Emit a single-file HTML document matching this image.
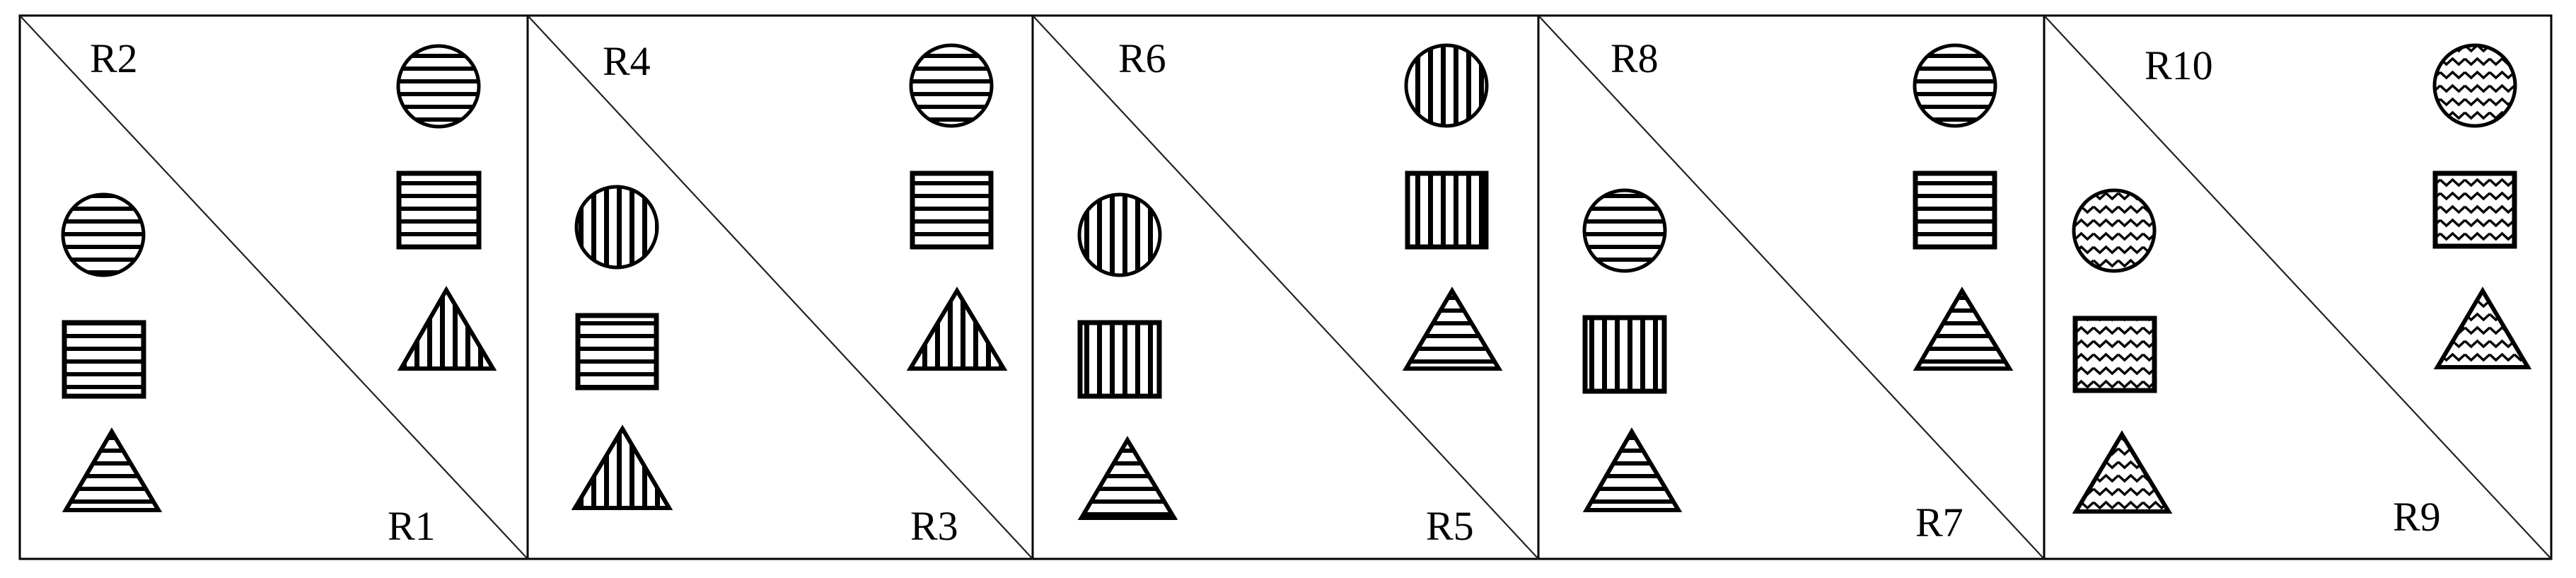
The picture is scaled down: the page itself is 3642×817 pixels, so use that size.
<!DOCTYPE html>
<html><head><meta charset="utf-8"><style>
html,body{margin:0;padding:0;background:#fff;}
svg{display:block;}
text{font-family:"Liberation Serif",serif;font-size:58px;fill:#000;}
</style></head><body>
<svg width="3642" height="817" viewBox="0 0 3642 817" xmlns="http://www.w3.org/2000/svg">
<defs>
<pattern id="H" patternUnits="userSpaceOnUse" width="20" height="18"><rect x="0" y="0" width="20" height="6" fill="#000"/></pattern>
<pattern id="V" patternUnits="userSpaceOnUse" width="18" height="20"><rect x="0" y="0" width="7" height="20" fill="#000"/></pattern>
<pattern id="W" patternUnits="userSpaceOnUse" width="35" height="19"><path d="M0 4 L8.75 12 L17.5 4 L26.25 12 L35 4" fill="none" stroke="#000" stroke-width="3.5"/></pattern>
</defs>
<rect width="3642" height="817" fill="#fff"/>
<g fill="none" stroke="#000" stroke-width="3">
<rect x="28" y="22" width="3579" height="768"/>
<line x1="746" y1="22" x2="746" y2="790"/>
<line x1="1460" y1="22" x2="1460" y2="790"/>
<line x1="2175" y1="22" x2="2175" y2="790"/>
<line x1="2890" y1="22" x2="2890" y2="790"/>
</g>
<g stroke="#222" stroke-width="2.2">
<line x1="28" y1="22" x2="746" y2="790"/>
<line x1="746" y1="22" x2="1460" y2="790"/>
<line x1="1460" y1="22" x2="2175" y2="790"/>
<line x1="2175" y1="22" x2="2890" y2="790"/>
<line x1="2890" y1="22" x2="3607" y2="790"/>
</g>

<!-- Panel 1 -->
<g transform="translate(28,22)" stroke="#000">
<text x="99" y="80" stroke="none">R2</text>
<text x="520" y="741" stroke="none">R1</text>
<circle cx="592" cy="100" r="57" fill="url(#H)" stroke-width="5"/>
<rect x="536" y="223" width="113" height="104" fill="url(#H)" stroke-width="7"/>
<polygon points="603,388 539,499 669,499" fill="url(#V)" stroke-width="6"/>
<circle cx="118" cy="310" r="57" fill="url(#H)" stroke-width="5"/>
<rect x="63" y="434" width="112" height="104" fill="url(#H)" stroke-width="7"/>
<polygon points="130,588 65,699 196,699" fill="url(#H)" stroke-width="6"/>
</g>

<!-- Panel 2 -->
<g transform="translate(746,22)" stroke="#000">
<text x="106" y="84" stroke="none">R4</text>
<text x="541" y="741" stroke="none">R3</text>
<circle cx="599" cy="99" r="57" fill="url(#H)" stroke-width="5"/>
<rect x="544" y="223" width="111" height="104" fill="url(#H)" stroke-width="7"/>
<polygon points="607,389 541,499 673,499" fill="url(#V)" stroke-width="6"/>
<circle cx="126" cy="299" r="57" fill="url(#V)" stroke-width="5"/>
<rect x="71" y="424" width="111" height="102" fill="url(#H)" stroke-width="7"/>
<polygon points="134,584 67,696 200,696" fill="url(#V)" stroke-width="6"/>
</g>

<!-- Panel 3 -->
<g transform="translate(1461,22)" stroke="#000">
<text x="120" y="80" stroke="none">R6</text>
<text x="555" y="741" stroke="none">R5</text>
<circle cx="584" cy="99" r="57" fill="url(#V)" stroke-width="5"/>
<rect x="529" y="223" width="111" height="104" fill="url(#V)" stroke-width="7"/>
<polygon points="592,389 527,499 658,499" fill="url(#H)" stroke-width="6"/>
<circle cx="122" cy="310" r="57" fill="url(#V)" stroke-width="5"/>
<rect x="66" y="434" width="112" height="104" fill="url(#V)" stroke-width="7"/>
<polygon points="133,600 68,710 199,710" fill="url(#H)" stroke-width="6"/>
</g>

<!-- Panel 4 -->
<g transform="translate(2175,22)" stroke="#000">
<text x="102" y="80" stroke="none">R8</text>
<text x="533" y="736" stroke="none">R7</text>
<circle cx="589" cy="99" r="57" fill="url(#H)" stroke-width="5"/>
<rect x="533" y="223" width="112" height="104" fill="url(#H)" stroke-width="7"/>
<polygon points="599,389 535,499 666,499" fill="url(#H)" stroke-width="6"/>
<circle cx="122" cy="304" r="57" fill="url(#H)" stroke-width="5"/>
<rect x="66" y="427" width="112" height="104" fill="url(#V)" stroke-width="7"/>
<polygon points="132,588 68,699 198,699" fill="url(#H)" stroke-width="6"/>
</g>

<!-- Panel 5 -->
<g transform="translate(2890,22)" stroke="#000">
<text x="142" y="90" stroke="none">R10</text>
<text x="493" y="728" stroke="none">R9</text>
<circle cx="609" cy="99" r="57" fill="url(#W)" stroke-width="5"/>
<rect x="553" y="223" width="112" height="103" fill="url(#W)" stroke-width="7"/>
<polygon points="620,389 556,497 684,497" fill="url(#W)" stroke-width="6"/>
<circle cx="99" cy="304" r="57" fill="url(#W)" stroke-width="5"/>
<rect x="44" y="428" width="112" height="102" fill="url(#W)" stroke-width="7"/>
<polygon points="110,592 45,701 176,701" fill="url(#W)" stroke-width="6"/>
</g>
</svg>
</body></html>
